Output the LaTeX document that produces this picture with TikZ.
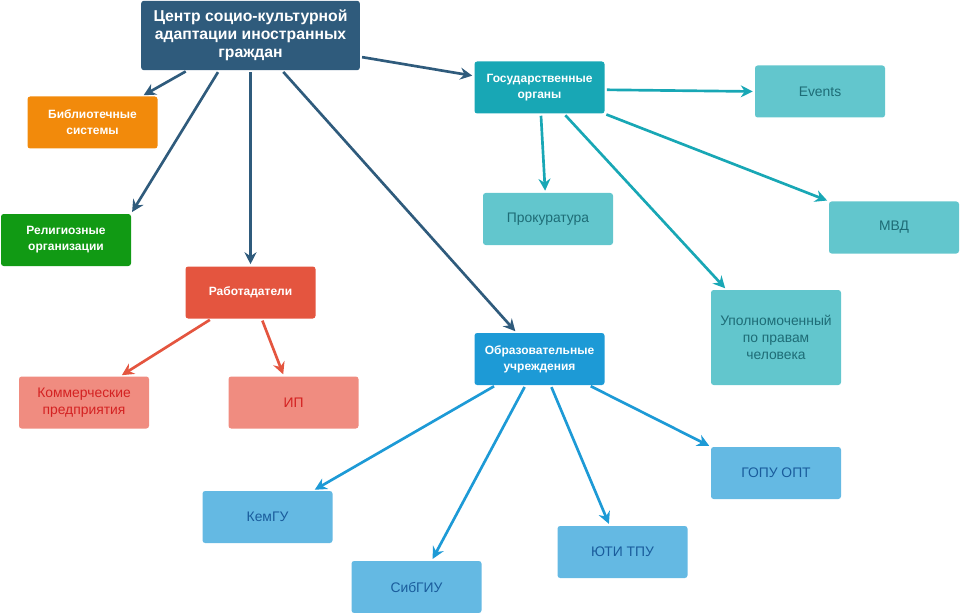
\documentclass[tikz,border=0pt]{standalone}
\usepackage{fontspec}
\setmainfont{Liberation Sans}
\usetikzlibrary{arrows.meta}
\definecolor{dkblue}{HTML}{2F5B7C}
\definecolor{orng}{HTML}{F28A0B}
\definecolor{grn}{HTML}{119A14}
\definecolor{rd}{HTML}{E4553F}
\definecolor{ltrd}{HTML}{F08C80}
\definecolor{rdtxt}{HTML}{D42222}
\definecolor{gteal}{HTML}{18A7B5}
\definecolor{ltteal}{HTML}{62C6CD}
\definecolor{tltxt}{HTML}{1E6C76}
\definecolor{eblue}{HTML}{1D9AD6}
\definecolor{ltblue}{HTML}{64B9E3}
\definecolor{bltxt}{HTML}{1A5C9C}
\tikzset{
  box/.style = {rectangle, rounded corners=2pt, align=center, inner sep=0pt,
    minimum width=97.5pt, minimum height=39pt},
  box_t/.style = {box, fill=dkblue, text=white, minimum width=164pt,
    minimum height=52pt, font=\fontsize{11.8}{13.5}\selectfont\bfseries},% titre
  box_b/.style = {box, text=white, font=\fontsize{9}{12}\selectfont\bfseries},% categorie
  box_r/.style = {box, fill=ltrd, text=rdtxt, font=\fontsize{10.4}{12.5}\selectfont},% employeur
  box_c/.style = {box, fill=ltteal, text=tltxt, font=\fontsize{10.4}{12.5}\selectfont},% organe
  box_e/.style = {box, fill=ltblue, text=bltxt, font=\fontsize{10.4}{12.5}\selectfont},% ecole
  lnk/.style = {->, line width=2pt, shorten <=1.5pt, shorten >=1.5pt}
}
\begin{document}
\begin{tikzpicture}[x=0.75pt,y=-0.75pt,>={Stealth[length=9pt,width=9pt,inset=3pt]}]
  \useasboundingbox (0,0) rectangle (960,613);
  \node [box_t] (cscm) at (250.5,35.5) {Центр социо-культурной\\адаптации иностранных\\граждан};
  \node [box_b, fill=orng] (bibl) at (92.5,122.5) {Библиотечные\\системы};
  \node [box_b, fill=grn] (relg) at (66,240) {Религиозные\\организации};
  \node [box_b, fill=rd] (rabt) at (250.5,292.5) {Работадатели};
  \node [box_r] (komm) at (84,402.5) {Коммерческие\\предприятия};
  \node [box_r] (ip) at (293.5,402.5) {ИП};
  \node [box_b, fill=gteal] (gosu) at (539.5,87.5) {Государственные\\органы};
  \node [box_c] (evnt) at (820,91.5) {Events};
  \node [box_c] (prok) at (548,219) {Прокуратура};
  \node [box_c] (mvd) at (894,227.5) {МВД};
  \node [box_c, minimum height=71.25pt] (upol) at (776,337.5) {Уполномоченный\\по правам\\человека};
  \node [box_b, fill=eblue] (obrz) at (539.5,359) {Образовательные\\учреждения};
  \node [box_e] (kemg) at (267.5,517) {КемГУ};
  \node [box_e] (sibg) at (416.5,587) {СибГИУ};
  \node [box_e] (yuti) at (622.5,552) {ЮТИ ТПУ};
  \node [box_e] (gopu) at (776,473) {ГОПУ ОПТ};

  \foreach \from/\to in {cscm.209/bibl.28, cscm.228/relg.22, cscm.south/rabt.north,
      cscm.312/obrz.131, cscm.349/gosu.170}
    \draw [lnk, color=dkblue] (\from) -- (\to);
  \foreach \from/\to in {rabt.214/komm.36, rabt.293/ip.110}
    \draw [lnk, color=rd] (\from) -- (\to);
  \foreach \from/\to in {gosu.358/evnt.180, gosu.273/prok.96, gosu.313/upol.136,
      gosu.338/mvd.158}
    \draw [lnk, color=gteal] (\from) -- (\to);
  \foreach \from/\to in {obrz.211/kemg.30, obrz.242/sibg.60, obrz.293/yuti.116,
      obrz.332/gopu.158}
    \draw [lnk, color=eblue] (\from) -- (\to);
\end{tikzpicture}
\end{document}
